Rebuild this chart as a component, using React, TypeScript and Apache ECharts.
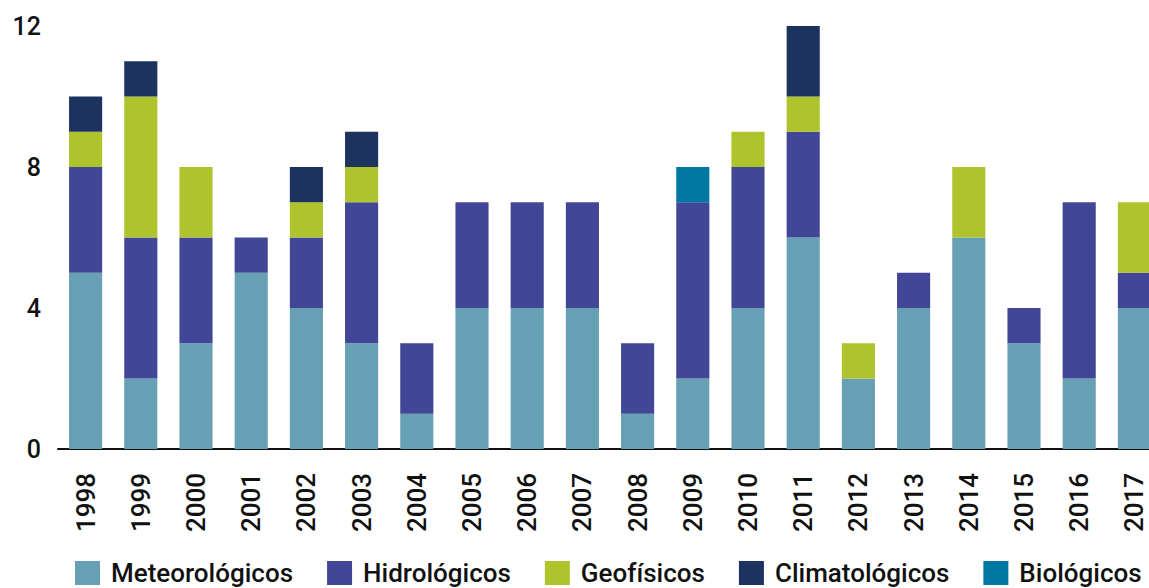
import React, { useEffect, useRef } from "react";
import * as echarts from "echarts";

const years = ["1998","1999","2000","2001","2002","2003","2004","2005","2006","2007","2008","2009","2010","2011","2012","2013","2014","2015","2016","2017"];
const meteorologicos = [5,2,3,5,4,3,1,4,4,4,1,2,4,6,2,4,6,3,2,4];
const hidrologicos =   [3,4,3,1,2,4,2,3,3,3,2,5,4,3,0,1,0,1,5,1];
const geofisicos =     [1,4,2,0,1,1,0,0,0,0,0,0,1,1,1,0,2,0,0,2];
const climatologicos = [1,1,0,0,1,1,0,0,0,0,0,0,0,2,0,0,0,0,0,0];
const biologicos =     [0,0,0,0,0,0,0,0,0,0,0,1,0,0,0,0,0,0,0,0];
const yTicks = [0, 4, 8, 12];

const FONT = "Roboto";

export default function App() {
  const ref = useRef<HTMLDivElement>(null);
  useEffect(() => {
    document.body.style.margin = "0";
    const chart = echarts.init(ref.current!, null, { renderer: "svg" });
    const mk = (name: string, data: number[], color: string) => ({
      name,
      type: "bar",
      stack: "total",
      data: data.map((v) => (v === 0 ? null : v)),
      barWidth: "60%",
      itemStyle: { color },
    });
    chart.setOption({
      animation: false,
      backgroundColor: "#ffffff",
      grid: { left: 58, top: 26, bottom: 139, width: 1104, containLabel: false, outerBoundsMode: "none" },
      legend: {
        left: 70,
        top: 555,
        width: 1150,
        orient: "horizontal",
        itemWidth: 25,
        itemHeight: 24,
        itemGap: 34,
        icon: "rect",
        textStyle: { fontFamily: FONT, fontSize: 26, fontWeight: 500, color: "#111", padding: [0, 0, 0, 6] },
        data: ["Meteorológicos", "Hidrológicos", "Geofísicos", "Climatológicos", "Biológicos"],
      },
      xAxis: {
        type: "category",
        data: years,
        axisLine: { show: true, lineStyle: { color: "#111", width: 2 } },
        axisTick: { show: false },
        axisLabel: {
          rotate: 90,
          margin: 24,
          fontFamily: FONT,
          fontSize: 26,
          fontWeight: 500,
          color: "#111",
        },
      },
      yAxis: {
        type: "value",
        min: yTicks[0],
        max: yTicks[yTicks.length - 1],
        interval: 4,
        splitLine: { show: false },
        axisLine: { show: false },
        axisTick: { show: false },
        axisLabel: { margin: 17, fontFamily: FONT, fontSize: 25, fontWeight: 500, color: "#111" },
      },
      series: [
        mk("Meteorológicos", meteorologicos, "#67a0b4"),
        mk("Hidrológicos", hidrologicos, "#414796"),
        mk("Geofísicos", geofisicos, "#afc42c"),
        mk("Climatológicos", climatologicos, "#1b335e"),
        mk("Biológicos", biologicos, "#0077a3"),
      ],
    });
    return () => chart.dispose();
  }, []);
  return <div ref={ref} style={{ width: 1149, height: 588 }} />;
}
